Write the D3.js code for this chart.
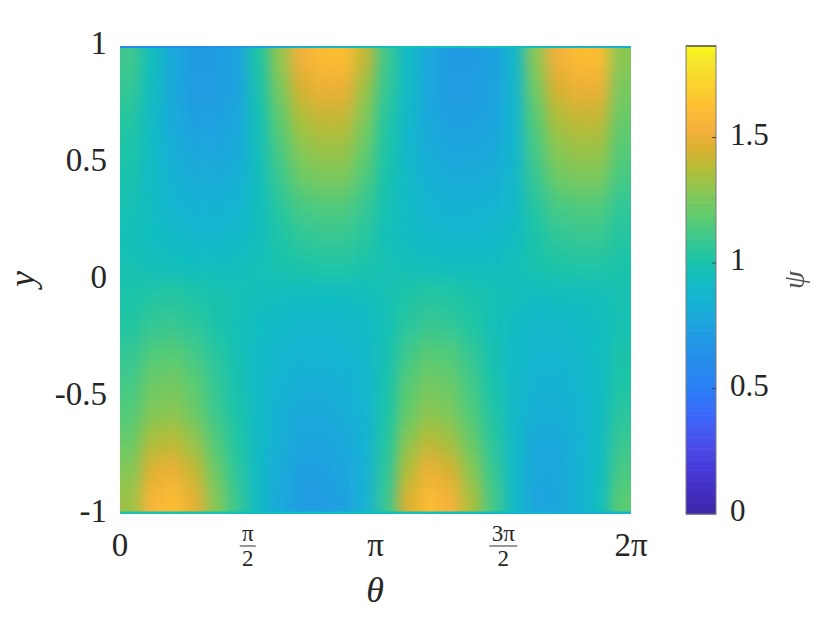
<!DOCTYPE html>
<html><head><meta charset="utf-8">
<script src="https://cdn.jsdelivr.net/npm/d3@7/dist/d3.min.js"></script>
<style>html,body{margin:0;background:#fff}svg{display:block}text{font-family:"Liberation Serif",serif;fill:#262626}</style>
</head><body><div id="chart"></div>
<script>
const parulaPos=[0,.09,.14,.21,.27,.36,.415,.46,.5,.54,.585,.63,.68,.73,.78,.82,.87,.97,1];
const parulaStops=["#3e26a8","#4838d8","#4a4ce8","#3a68fa","#2a80f5","#2296e5","#1ca8dc","#14b5d0","#10bdbf","#1cc4a8","#3cc890","#5ccb70","#84c858","#b0be38","#ddb030","#f5b03e","#fdc030","#f5e82a","#f9fb15"];
const colorMax=1.865;
const yTicks=[-1,-0.5,0,0.5,1];
const colorTicks=[0,0.5,1,1.5];
const rowY=[0.9375,0.8125,0.6875,0.5625,0.4375,0.3125,0.1875,0.0625,-0.0625,-0.1875,-0.3125,-0.4375,-0.5625,-0.6875,-0.8125,-0.9375];
const psi=[
[1.10,.94,.78,.70,.70,.75,1.01,1.30,1.52,1.60,1.60,1.40,1.10,.91,.77,.70,.70,.73,.87,1.28,1.52,1.60,1.60,1.28],
[1.07,.92,.78,.71,.71,.75,.98,1.24,1.44,1.50,1.50,1.32,1.07,.90,.77,.71,.71,.74,.86,1.22,1.44,1.50,1.50,1.24],
[1.03,.91,.79,.73,.73,.77,.96,1.18,1.35,1.40,1.40,1.26,1.03,.89,.78,.73,.73,.75,.86,1.16,1.35,1.40,1.40,1.20],
[1.01,.91,.81,.76,.76,.79,.95,1.13,1.28,1.32,1.32,1.20,1.01,.89,.80,.76,.76,.78,.87,1.12,1.28,1.32,1.32,1.16],
[.99,.91,.84,.80,.80,.82,.94,1.09,1.21,1.25,1.25,1.14,.99,.90,.83,.80,.80,.81,.88,1.08,1.21,1.25,1.25,1.12],
[.97,.92,.86,.84,.84,.86,.94,1.04,1.12,1.14,1.14,1.08,.97,.91,.86,.84,.84,.85,.89,1.03,1.12,1.14,1.14,1.06],
[.96,.93,.90,.88,.88,.89,.94,1.01,1.06,1.08,1.08,1.04,.96,.92,.89,.88,.88,.89,.92,1.00,1.06,1.08,1.08,1.03],
[.97,.95,.94,.93,.93,.94,.96,.99,1.01,1.02,1.02,1.00,.97,.95,.94,.93,.93,.93,.95,.99,1.01,1.02,1.02,1.00],
[1.00,1.02,1.03,1.01,.99,.97,.95,.94,.93,.93,.93,.94,.97,1.01,1.03,1.02,1.00,.97,.95,.93,.94,.94,.95,.98],
[1.02,1.07,1.08,1.05,1.00,.96,.92,.90,.88,.88,.89,.90,.96,1.04,1.08,1.06,1.02,.96,.92,.89,.89,.90,.93,.97],
[1.07,1.14,1.16,1.11,1.04,.97,.91,.87,.85,.85,.86,.89,.97,1.10,1.16,1.14,1.07,.98,.91,.87,.87,.89,.92,1.00],
[1.11,1.21,1.23,1.17,1.07,.98,.90,.85,.82,.82,.83,.87,.98,1.16,1.23,1.20,1.11,.99,.90,.84,.84,.87,.91,1.01],
[1.15,1.26,1.28,1.21,1.09,1.00,.90,.83,.79,.79,.81,.85,1.00,1.19,1.28,1.25,1.14,1.02,.90,.82,.82,.85,.91,1.04],
[1.20,1.35,1.38,1.30,1.15,1.02,.90,.82,.76,.76,.78,.84,1.02,1.28,1.38,1.33,1.20,1.05,.90,.79,.79,.84,.92,1.08],
[1.27,1.46,1.50,1.40,1.21,1.05,.90,.80,.73,.73,.76,.83,1.05,1.37,1.50,1.44,1.28,1.08,.90,.77,.77,.83,.92,1.12],
[1.32,1.56,1.60,1.48,1.27,1.08,.90,.79,.71,.71,.74,.83,1.08,1.45,1.60,1.54,1.35,1.12,.90,.76,.76,.83,.93,1.17]
];
const topEdge=[.58,.58,.60,.62,.65,.68,.72,.78,.82,.85,.88,.92,.95,.96,.96,.96,.96,.96,.95,.93,.90,.88,.85,.82];
const bottomEdge=[.98,.98,.98,.98,.98,.96,.94,.92,.92,.92,.92,.92,.94,.96,.96,.94,.92,.90,.88,.86,.84,.84,.84,.86];

const W=822,H=617,L=120,R=631,T=46,B=514,CL=686,CR=716;
const svg=d3.select("#chart").append("svg").attr("width",W).attr("height",H);
const x=d3.scaleLinear().domain([0,2]).range([L,R]);
const y=d3.scaleLinear().domain([-1,1]).range([B,T]);
const c=d3.scaleLinear().domain([0,colorMax]).range([B,T]);
const color=d3.scaleLinear().domain(parulaPos.map(p=>p*colorMax)).range(parulaStops).interpolate(d3.interpolateRgb).clamp(true);
const nCol=psi[0].length, dx=2/nCol, dy=2/rowY.length;
const defs=svg.append("defs");
defs.append("clipPath").attr("id","plot").append("rect").attr("x",L).attr("y",T).attr("width",R-L).attr("height",B-T);
defs.append("filter").attr("id","soft").attr("filterUnits","userSpaceOnUse")
  .attr("x",L-80).attr("y",T-80).attr("width",R-L+160).attr("height",B-T+160)
  .attr("color-interpolation-filters","sRGB")
  .append("feGaussianBlur").attr("stdDeviation","7 11");
const bleed=60;
const plot=svg.append("g").attr("clip-path","url(#plot)");
const cells=plot.append("g").attr("filter","url(#soft)");
psi.forEach((row,r)=>{
  cells.selectAll(null).data(row).join("rect")
    .attr("x",(d,i)=>x(i*dx)-(i===0?bleed:0))
    .attr("width",(d,i)=>x(dx)-x(0)+0.6+((i===0||i===nCol-1)?bleed:0))
    .attr("y",y(rowY[r]+dy/2)-(r===0?bleed:0))
    .attr("height",y(-dy/2)-y(dy/2)+0.6+((r===0||r===rowY.length-1)?bleed:0))
    .attr("fill",d=>color(d));
});
plot.selectAll("rect.top").data(topEdge).join("rect").attr("class","top")
  .attr("x",(d,i)=>x(i*dx)).attr("width",x(dx)-x(0)+.6).attr("y",y(1)).attr("height",2).attr("fill",d=>color(d));
plot.selectAll("rect.bot").data(bottomEdge).join("rect").attr("class","bot")
  .attr("x",(d,i)=>x(i*dx)).attr("width",x(dx)-x(0)+.6).attr("y",y(-1)-2.5).attr("height",2.5).attr("fill",d=>color(d));

// colour bar
const barVals=d3.range(0,128).map(i=>i/128*colorMax);
svg.append("g").selectAll("rect").data(barVals).join("rect")
  .attr("x",CL).attr("width",CR-CL)
  .attr("y",d=>c(d+colorMax/128)).attr("height",c(0)-c(colorMax/128)+.6)
  .attr("fill",d=>color(d));
svg.append("rect").attr("x",CL).attr("y",T).attr("width",CR-CL).attr("height",B-T).attr("fill","none").attr("stroke","#7a7a7a").attr("stroke-width",1);
svg.append("line").attr("x1",CL).attr("x2",CR).attr("y1",T).attr("y2",T).attr("stroke","#333");
const cAxis=d3.axisRight(c).tickValues(colorTicks).tickSize(0).tickPadding(14).tickFormat(d3.format("~g"));
const cg=svg.append("g").attr("transform",`translate(${CR},0)`).call(cAxis);
cg.select(".domain").remove();
cg.selectAll("text").attr("font-size",31).attr("dy","0.22em").style("font-family",'"Liberation Serif",serif').attr("fill","#262626");
svg.selectAll("line.ct").data(colorTicks.slice(1)).join("line").attr("class","ct")
  .attr("x1",CR-4).attr("x2",CR).attr("y1",d=>c(d)).attr("y2",d=>c(d)).attr("stroke","#444");

// axes
const yAxis=d3.axisLeft(y).tickValues(yTicks).tickSize(0).tickPadding(13).tickFormat(d3.format("~g"));
const yg=svg.append("g").attr("transform",`translate(${L},0)`).call(yAxis);
yg.select(".domain").remove();
yg.selectAll("text").attr("font-size",33).attr("dy","0.22em").style("font-family",'"Liberation Serif",serif').attr("fill","#262626").text(d=>d3.format("~g")(d).replace("−","-"));
const xLabels=[{v:0,t:"0"},{v:.5,n:"π",d:"2"},{v:1,t:"π"},{v:1.5,n:"3π",d:"2"},{v:2,t:"2π"}];
const xg=svg.append("g");
xg.selectAll("text.whole").data(xLabels.filter(d=>d.t)).join("text").attr("class","whole")
  .attr("x",d=>x(d.v)).attr("y",556).attr("text-anchor","middle").attr("font-size",33).text(d=>d.t);
const frac=xg.selectAll("g").data(xLabels.filter(d=>d.n)).join("g").attr("transform",d=>`translate(${x(d.v)},0)`);
frac.append("text").attr("y",541).attr("text-anchor","middle").attr("font-size",23).text(d=>d.n);
frac.append("line").attr("x1",d=>d.n.length>1?-14:-8).attr("x2",d=>d.n.length>1?14:8).attr("y1",546).attr("y2",546).attr("stroke","#333").attr("stroke-width",1);
frac.append("text").attr("y",566).attr("text-anchor","middle").attr("font-size",23).text(d=>d.d);
svg.append("text").attr("x",375).attr("y",602).attr("text-anchor","middle").attr("font-size",36).attr("font-style","italic").text("θ");
svg.append("text").attr("transform","translate(34,279) rotate(-90)").attr("text-anchor","middle").attr("font-size",36).attr("font-style","italic").text("y");
svg.append("text").attr("transform","translate(804,280) rotate(-90)").attr("text-anchor","middle").attr("font-size",29).attr("font-style","italic").attr("opacity",.8).text("ψ");
</script></body></html>
